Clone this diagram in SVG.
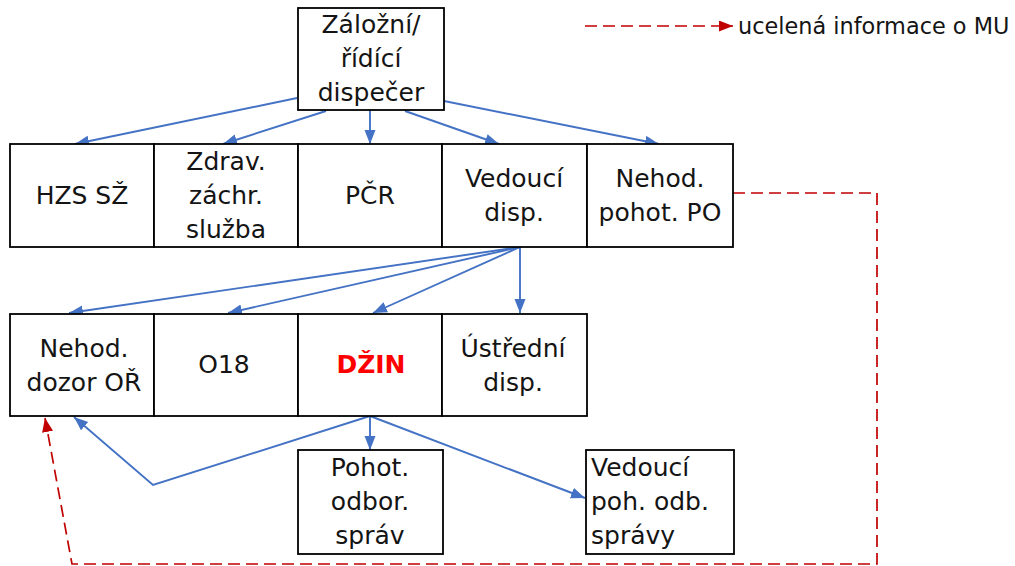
<svg xmlns="http://www.w3.org/2000/svg" width="1015" height="566" viewBox="0 0 1015 566">
<style>
.box{fill:#fff;stroke:#000;stroke-width:1.8}
.t{font-family:"DejaVu Sans",Verdana,sans-serif;font-size:25px;fill:#141414;text-anchor:middle}
.tl{text-anchor:start}
.red{fill:#ff0000;font-weight:bold}
.lg{font-size:22.4px;text-anchor:start}
.b{fill:none;stroke:#4472C4;stroke-width:1.9;marker-end:url(#ab)}
.r{fill:none;stroke:#C00000;stroke-width:1.7;stroke-dasharray:12 6}
</style>
<defs>
<marker id="ab" markerUnits="userSpaceOnUse" markerWidth="15" markerHeight="12" refX="14" refY="5.5" orient="auto">
<path d="M0,0 L14,5.5 L0,11 z" fill="#4472C4"/>
</marker>
<marker id="ar" markerUnits="userSpaceOnUse" markerWidth="15" markerHeight="12" refX="14" refY="5.5" orient="auto">
<path d="M0,0 L14,5.5 L0,11 z" fill="#C00000"/>
</marker>
</defs>
<rect width="1015" height="566" fill="#fff"/>
<g id="connectors">
<path class="b" d="M297,98 L75,144"/>
<path class="b" d="M326,111 L223,144"/>
<path class="b" d="M370,110 L370,144"/>
<path class="b" d="M405,111 L499,144"/>
<path class="b" d="M444,101 L659,144"/>
<path class="b" d="M520,247 L69,313"/>
<path class="b" d="M520,247 L228,313"/>
<path class="b" d="M520,247 L373,313"/>
<path class="b" d="M520,247 L520,313"/>
<path class="b" d="M370,416 L370,450"/>
<path class="b" d="M370,416 L585,498"/>
<path class="b" d="M370,416 L153,485 L74,417"/>
<path class="r" d="M733,193 L877,193 L877,564 L72,564 L45,418" marker-end="url(#ar)"/>
</g>
<g id="legend">
<path class="r" d="M585,26 L733,26" marker-end="url(#ar)"/>
<text class="t lg" x="738" y="34">ucelená informace o MU</text>
</g>
<g id="n-zalozni">
<rect class="box" x="298" y="8" width="146" height="102"/>
<text class="t" x="371" y="33">Záložní/</text>
<text class="t" x="371" y="67">řídící</text>
<text class="t" x="371" y="101">dispečer</text>
</g>
<g id="n-hzs">
<rect class="box" x="10" y="144" width="144" height="103"/>
<text class="t" x="82" y="204">HZS SŽ</text>
</g>
<g id="n-zdrav">
<rect class="box" x="154" y="144" width="144" height="103"/>
<text class="t" x="226" y="170">Zdrav.</text>
<text class="t" x="226" y="204">záchr.</text>
<text class="t" x="226" y="238">služba</text>
</g>
<g id="n-pcr">
<rect class="box" x="298" y="144" width="144" height="103"/>
<text class="t" x="370" y="204">PČR</text>
</g>
<g id="n-vedouci">
<rect class="box" x="442" y="144" width="145" height="103"/>
<text class="t" x="514" y="187">Vedoucí</text>
<text class="t" x="514" y="221">disp.</text>
</g>
<g id="n-nehod-po">
<rect class="box" x="587" y="144" width="146" height="103"/>
<text class="t" x="660" y="187">Nehod.</text>
<text class="t" x="660" y="221">pohot. PO</text>
</g>
<g id="n-nehod-or">
<rect class="box" x="10" y="314" width="144" height="102"/>
<text class="t" x="84" y="357">Nehod.</text>
<text class="t" x="84" y="391">dozor OŘ</text>
</g>
<g id="n-o18">
<rect class="box" x="154" y="314" width="144" height="102"/>
<text class="t" x="224" y="373">O18</text>
</g>
<g id="n-dzin">
<rect class="box" x="298" y="314" width="144" height="102"/>
<text class="t red" x="371" y="373">DŽIN</text>
</g>
<g id="n-ustredni">
<rect class="box" x="442" y="314" width="145" height="102"/>
<text class="t" x="513" y="357">Ústřední</text>
<text class="t" x="513" y="391">disp.</text>
</g>
<g id="n-pohot">
<rect class="box" x="298" y="450" width="145" height="104"/>
<text class="t" x="370" y="476">Pohot.</text>
<text class="t" x="370" y="510">odbor.</text>
<text class="t" x="370" y="544">správ</text>
</g>
<g id="n-vedouci-poh">
<rect class="box" x="586" y="450" width="148" height="104"/>
<text class="t tl" x="591" y="476">Vedoucí</text>
<text class="t tl" x="591" y="510">poh. odb.</text>
<text class="t tl" x="591" y="544">správy</text>
</g>
</svg>
